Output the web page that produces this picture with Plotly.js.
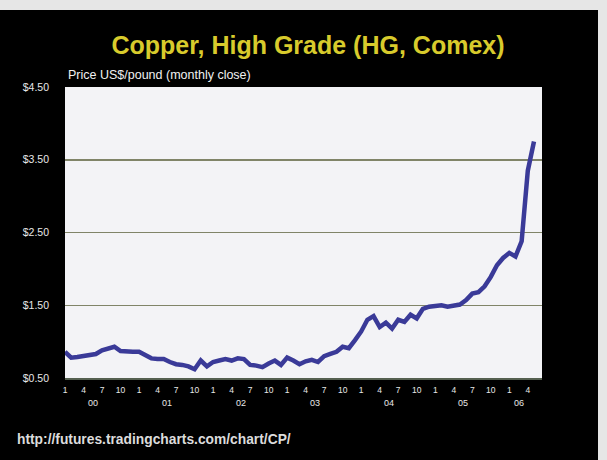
<!DOCTYPE html>
<html>
<head>
<meta charset="utf-8">
<script src="https://cdn.plot.ly/plotly-3.0.1.min.js"></script>
<style>
  html, body { margin: 0; padding: 0; background: #e6e6e6; width: 607px; height: 460px; overflow: hidden; }
  #chart { position: absolute; left: 0; top: 10px; width: 598px; height: 450px; }
</style>
</head>
<body>
<div id="chart"></div>
<script>
// Month index (0 = Jan 2000) and monthly close, US$/pound
const months = [];
const prices = [
  0.86, 0.78, 0.79, 0.80, 0.82, 0.83, 0.88, 0.91, 0.93, 0.87, 0.86, 0.86,   // 2000
  0.86, 0.82, 0.77, 0.76, 0.76, 0.72, 0.69, 0.68, 0.66, 0.62, 0.74, 0.66,   // 2001
  0.72, 0.74, 0.76, 0.74, 0.77, 0.76, 0.68, 0.67, 0.65, 0.70, 0.74, 0.68,   // 2002
  0.78, 0.74, 0.69, 0.73, 0.75, 0.72, 0.80, 0.83, 0.86, 0.93, 0.91, 1.02,   // 2003
  1.14, 1.30, 1.35, 1.20, 1.26, 1.18, 1.30, 1.27, 1.37, 1.32, 1.45, 1.48,   // 2004
  1.49, 1.50, 1.48, 1.50, 1.51, 1.57, 1.66, 1.68, 1.76, 1.89, 2.05, 2.15,   // 2005
  2.22, 2.17, 2.38, 3.35, 3.75                                              // 2006
];
for (let i = 0; i < prices.length; i++) months.push(i);

// x tick labels (month numbers) and their positions
const monthTickVals = [];
const monthTickText = [];
for (let i = 0; i <= 75; i += 3) { monthTickVals.push(i); monthTickText.push(String((i % 12) + 1)); }

// year labels, centred under each year's ticks
const yearLabels = ['00', '01', '02', '03', '04', '05', '06'];
const yearPos = [4.5, 16.5, 28.5, 40.5, 52.5, 64.5, 73.5];

// y axis ticks
const yTickVals = [0.5, 1.5, 2.5, 3.5, 4.5];
const yTickText = ['$0.50', '$1.50', '$2.50', '$3.50', '$4.50'];

const FONT = 'Liberation Sans, Arial, sans-serif';

const annotations = yearLabels.map((t, i) => ({
  text: t, x: yearPos[i], xref: 'x', y: 0, yref: 'paper', yanchor: 'middle', xanchor: 'center',
  yshift: -25, showarrow: false, font: {family: FONT, size: 9, color: '#e8e8e8'}
}));
annotations.push({
  text: 'Price US$/pound (monthly close)', x: 0, xref: 'paper', xanchor: 'left', xshift: 1,
  y: 1, yref: 'paper', yanchor: 'bottom', yshift: 3, showarrow: false,
  font: {family: FONT, size: 12.5, color: '#f0f0f0'}
});
annotations.push({
  text: '<b>http://futures.tradingcharts.com/chart/CP/</b>', x: -0.105, xref: 'paper', xanchor: 'left',
  y: -0.213, yref: 'paper', yanchor: 'middle', showarrow: false,
  font: {family: FONT, size: 13.8, color: '#dcdcdc'}
});

const trace = {
  x: months, y: prices, type: 'scatter', mode: 'lines',
  line: {color: '#3a3a98', width: 4.5, shape: 'linear'},
  hoverinfo: 'skip'
};

const layout = {
  width: 598, height: 450,
  paper_bgcolor: '#000000', plot_bgcolor: '#f3f3f6',
  margin: {l: 65, r: 56, t: 77, b: 82},
  showlegend: false,
  title: {
    text: '<b>Copper, High Grade (HG, Comex)</b>',
    xref: 'container', x: 0.515, xanchor: 'center',
    yref: 'container', y: 0.922, yanchor: 'middle',
    font: {family: FONT, size: 25, color: '#d8cb2c'}
  },
  xaxis: {
    range: [0, 77.3], tickvals: monthTickVals, ticktext: monthTickText,
    showgrid: false, zeroline: false, ticks: '', showline: true, linecolor: '#556050', linewidth: 1.5,
    tickfont: {family: FONT, size: 8.5, color: '#e8e8e8'},
    ticklabelstandoff: 3, fixedrange: true
  },
  yaxis: {
    range: [0.5, 4.5], tickvals: yTickVals, ticktext: yTickText,
    showgrid: true, gridcolor: '#808468', gridwidth: 1.5, zeroline: false, ticks: '',
    tickfont: {family: FONT, size: 10.5, color: '#e8e8e8'},
    ticklabelstandoff: 15, fixedrange: true
  },
  annotations: annotations
};

Plotly.newPlot('chart', [trace], layout, {staticPlot: true, displayModeBar: false});
</script>
</body>
</html>
